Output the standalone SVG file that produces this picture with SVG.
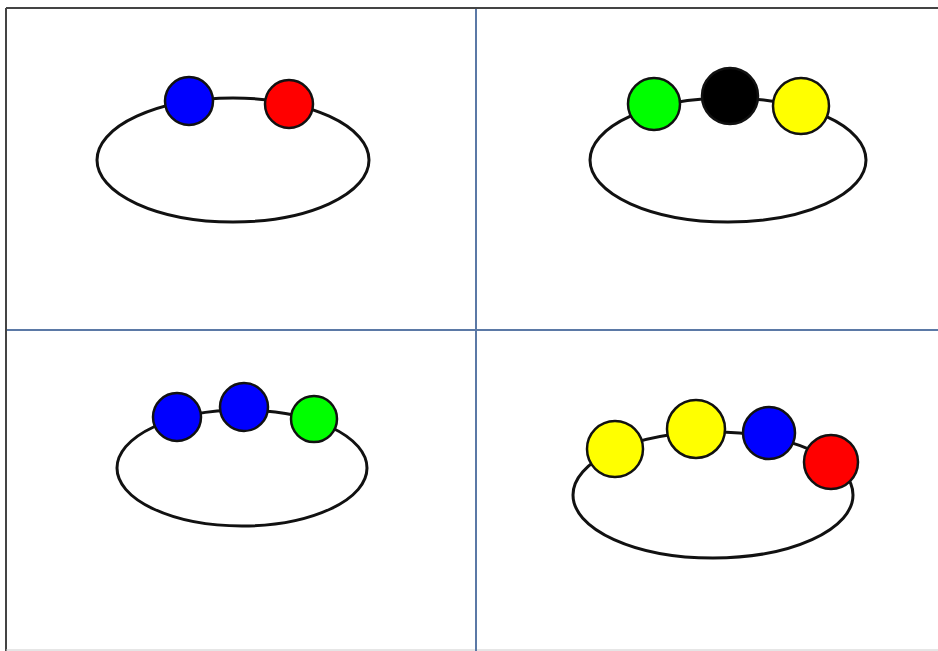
<svg xmlns="http://www.w3.org/2000/svg" width="938" height="651" viewBox="0 0 938 651">
<style>
.ring{fill:none;stroke:#111;stroke-width:3}
.bead{stroke:#111;stroke-width:2.5}
.grid{stroke:#5b79a6;stroke-width:2}
.frame{stroke:#444;stroke-width:2}
</style>
<rect width="938" height="651" fill="#fff"/>
<g id="frame">
<line class="frame" x1="6" y1="8" x2="938" y2="8"/>
<line class="frame" x1="6" y1="8" x2="6" y2="651"/>
<line x1="6" y1="650" x2="938" y2="650" stroke="#ccc" stroke-width="1"/>
<line class="grid" x1="476" y1="9" x2="476" y2="651"/>
<line class="grid" x1="7" y1="330" x2="938" y2="330"/>
</g>
<g id="panel1">
<ellipse class="ring" cx="233" cy="160" rx="136" ry="62"/>
<circle class="bead" cx="189" cy="101" r="24" fill="#0000ff"/>
<circle class="bead" cx="289" cy="104" r="24" fill="#ff0000"/>
</g>
<g id="panel2">
<ellipse class="ring" cx="728" cy="160" rx="138" ry="62"/>
<circle class="bead" cx="654" cy="104" r="26" fill="#00ff00"/>
<circle class="bead" cx="730" cy="96" r="28" fill="#000"/>
<circle class="bead" cx="801" cy="106" r="28" fill="#ffff00"/>
</g>
<g id="panel3">
<ellipse class="ring" cx="242" cy="468" rx="125" ry="58"/>
<circle class="bead" cx="177" cy="417" r="24" fill="#0000ff"/>
<circle class="bead" cx="244" cy="407" r="24" fill="#0000ff"/>
<circle class="bead" cx="314" cy="419" r="23" fill="#00ff00"/>
</g>
<g id="panel4">
<ellipse class="ring" cx="713" cy="495" rx="140" ry="63"/>
<circle class="bead" cx="615" cy="449" r="28" fill="#ffff00"/>
<circle class="bead" cx="696" cy="429" r="29" fill="#ffff00"/>
<circle class="bead" cx="769" cy="433" r="26" fill="#0000ff"/>
<circle class="bead" cx="831" cy="462" r="27" fill="#ff0000"/>
</g>
</svg>
